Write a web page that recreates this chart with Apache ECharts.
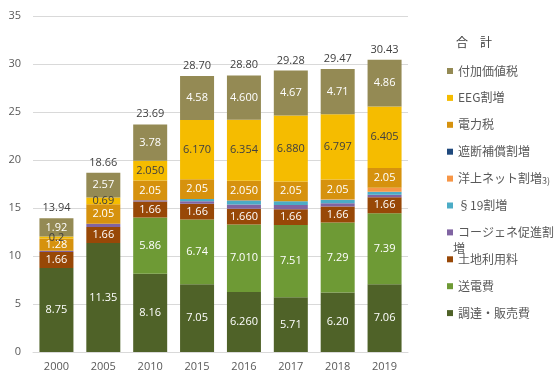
<!DOCTYPE html>
<html><head><meta charset="utf-8">
<script src="https://cdn.jsdelivr.net/npm/echarts@6/dist/echarts.min.js"></script>
<style>html,body{margin:0;padding:0;background:#fff}#c{width:555px;height:387px}</style>
</head><body><div id="c"></div>
<script>
const years = ['2000','2005','2010','2015','2016','2017','2018','2019'];
// label strings as printed (values parsed from them)
const procurement = ['8.75','11.35','8.16','7.05','6.260','5.71','6.20','7.06'];
const transmission = ['0','0','5.86','6.74','7.010','7.51','7.29','7.39'];
const concession = ['1.66','1.66','1.66','1.66','1.660','1.66','1.66','1.66'];
const cogen = [0.13, 0.34, 0.13, 0.254, 0.445, 0.438, 0.345, 0.280];
const sec19 = [0, 0, 0, 0.237, 0.378, 0.388, 0.370, 0.305];
const offshore = [0, 0, 0, 0, 0.040, 0, 0.037, 0.416];
const interruptible = [0, 0, 0, 0.006, 0.003, 0.006, 0.011, 0.005];
const electricityTax = ['1.28','2.05','2.05','2.05','2.050','2.05','2.05','2.05'];
const eeg = ['0.2','0.69','2.050','6.170','6.354','6.880','6.797','6.405'];
const vat = ['1.92','2.57','3.78','4.58','4.600','4.67','4.71','4.86'];
const totals = ['13.94','18.66','23.69','28.70','28.80','29.28','29.47','30.43'];
const yTicks = [0, 5, 10, 15, 20, 25, 30, 35];

const FONT = '"Open Sans","Noto Sans CJK JP",sans-serif';
const JFONT = '"Noto Sans CJK JP","Noto Sans",sans-serif';

function mk(name, arr, color, labelColor) {
  const isStr = typeof arr[0] === 'string';
  return {
    name, type: 'bar', stack: 'total', barWidth: 34,
    itemStyle: { color },
    data: arr.map(v => Number(v)),
    label: isStr ? {
      show: true, position: 'inside', color: labelColor, fontSize: 11, fontFamily: FONT,
      formatter: p => (Number(arr[p.dataIndex]) > 0 ? arr[p.dataIndex] : '')
    } : { show: false }
  };
}

const series = [
  mk('調達・販売費', procurement, '#4F6228', '#ffffff'),
  mk('送電費', transmission, '#6E9A35', '#ffffff'),
  mk('土地利用料', concession, '#984807', '#ffffff'),
  mk('コージェネ促進割増', cogen, '#8064A2'),
  mk('§19割増', sec19, '#4BACC6'),
  mk('洋上ネット割増3)', offshore, '#F79646'),
  mk('遮断補償割増', interruptible, '#1F497D'),
  mk('電力税', electricityTax, '#D6920E', '#ffffff'),
  mk('EEG割増', eeg, '#F5BC00', '#404040'),
  mk('付加価値税', vat, '#948A54', '#ffffff'),
  {
    name: '合計', type: 'bar', barWidth: 34, barGap: '-100%', z: 1,
    itemStyle: { color: 'rgba(0,0,0,0)' },
    data: totals.map(Number),
    label: { show: true, position: 'top', distance: 5, color: '#404040', fontSize: 11, fontFamily: FONT,
      formatter: p => totals[p.dataIndex] }
  }
];

const legendNames = ['付加価値税','EEG割増','電力税','遮断補償割増','洋上ネット割増3)','§19割増','コージェネ促進割増','土地利用料','送電費','調達・販売費'];
const legends = legendNames.map((n, i) => ({
  data: [n], left: 442, top: 67 + 26.9 * i - 7, orient: 'vertical',
  itemWidth: 6, itemHeight: 6, icon: 'rect', selectedMode: false,
  textStyle: { color: '#595959', fontSize: 12, fontFamily: JFONT,
    rich: { s: { fontSize: 9, color: '#595959', fontFamily: JFONT, padding: [4, 0, 0, 0] } } },
  formatter: name => name === 'コージェネ促進割増' ? 'コージェネ促進割'
    : name === '洋上ネット割増3)' ? '洋上ネット割増{s|3)}' : name
}));

const chart = echarts.init(document.getElementById('c'), null, { renderer: 'canvas' });
chart.setOption({
  animation: false,
  backgroundColor: '#ffffff',
  grid: { left: 33, right: 147, top: 16, bottom: 35 },
  legend: legends,
  graphic: [
    { type: 'text', left: 456, top: 36, style: { text: '合　計', fill: '#404040', font: '12px ' + JFONT } },
    { type: 'text', left: 453, top: 242, style: { text: '増', fill: '#595959', font: '12px ' + JFONT } }
  ],
  xAxis: {
    type: 'category', data: years,
    axisLine: { lineStyle: { color: '#d9d9d9' } },
    axisTick: { show: false },
    axisLabel: { color: '#595959', fontSize: 11, fontFamily: FONT, margin: 9 }
  },
  yAxis: {
    type: 'value', min: yTicks[0], max: yTicks[yTicks.length - 1], interval: 5,
    axisLine: { show: false }, axisTick: { show: false },
    splitLine: { lineStyle: { color: '#d9d9d9' } },
    axisLabel: { color: '#595959', fontSize: 11, fontFamily: FONT, margin: 12 }
  },
  series
});
</script></body></html>
